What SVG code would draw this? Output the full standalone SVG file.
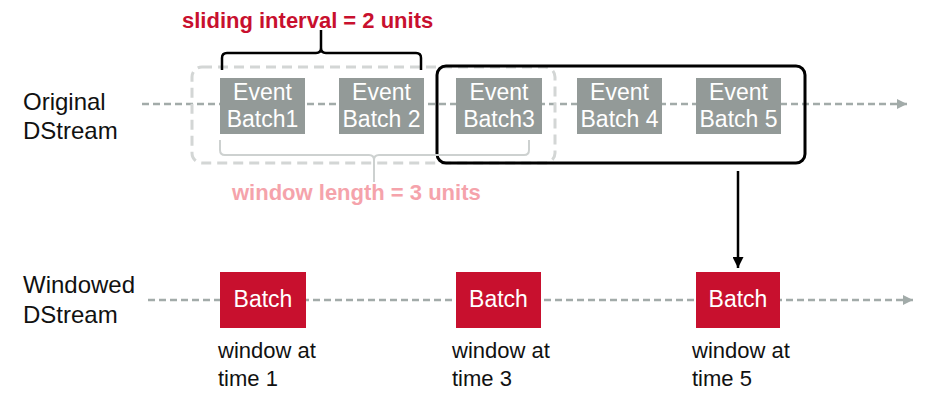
<svg xmlns="http://www.w3.org/2000/svg" width="936" height="403" viewBox="0 0 936 403">
<defs>
<style>
.lbl{font-family:"Liberation Sans",Arial,sans-serif;font-size:24px;fill:#111}
.ev{fill:#939A98}
.evt{font-family:"Liberation Sans",Arial,sans-serif;font-size:23px;fill:#fff;text-anchor:middle}
.wb{fill:#C8102E}
.stream{stroke:#A2ABA9;stroke-width:2.5;stroke-dasharray:7 4;fill:none}
.cap{font-family:"Liberation Sans",Arial,sans-serif;font-size:22px;fill:#111}
</style>
<marker id="gh" viewBox="0 0 10 10" refX="10" refY="5" markerWidth="10" markerHeight="10" markerUnits="userSpaceOnUse" orient="auto">
<path d="M0,0 L10,5 L0,10 Z" fill="#A2ABA9"/>
</marker>
<marker id="bh" viewBox="0 0 10 10" refX="10" refY="5" markerWidth="11" markerHeight="11" markerUnits="userSpaceOnUse" orient="auto">
<path d="M0,0 L10,5 L0,10 Z" fill="#000"/>
</marker>
</defs>
<rect width="936" height="403" fill="#fff"/>

<g id="labels">
<text class="lbl" x="23" y="110">Original</text>
<text class="lbl" x="23" y="139">DStream</text>
<text class="lbl" x="23" y="293">Windowed</text>
<text class="lbl" x="23" y="323">DStream</text>
</g>

<g id="connectors">
<line class="stream" x1="142" y1="104" x2="907" y2="104" marker-end="url(#gh)"/>
<line class="stream" x1="148" y1="300" x2="913" y2="300" marker-end="url(#gh)"/>
<line x1="738" y1="171" x2="738" y2="268" stroke="#000" stroke-width="2.5" marker-end="url(#bh)"/>
</g>

<g id="window-old">
<rect x="192" y="67" width="363" height="96" rx="10" fill="none" stroke="#D3D6D5" stroke-width="3" stroke-dasharray="10 6"/>
</g>

<g id="window-new">
<rect x="437" y="66" width="368" height="97" rx="9" fill="none" stroke="#000" stroke-width="3"/>
</g>

<g id="ev1"><rect class="ev" x="220" y="78" width="85" height="56"/><text class="evt" x="262.5" y="100">Event</text><text class="evt" x="262.5" y="127">Batch1</text></g>
<g id="ev2"><rect class="ev" x="339" y="78" width="85" height="56"/><text class="evt" x="381.5" y="100">Event</text><text class="evt" x="381.5" y="127">Batch 2</text></g>
<g id="ev3"><rect class="ev" x="456" y="78" width="86" height="56"/><text class="evt" x="499" y="100">Event</text><text class="evt" x="499" y="127">Batch3</text></g>
<g id="ev4"><rect class="ev" x="577" y="78" width="85" height="56"/><text class="evt" x="619.5" y="100">Event</text><text class="evt" x="619.5" y="127">Batch 4</text></g>
<g id="ev5"><rect class="ev" x="696" y="78" width="85" height="56"/><text class="evt" x="738.5" y="100">Event</text><text class="evt" x="738.5" y="127">Batch 5</text></g>

<g id="sliding-interval">
<path d="M222,70 V58 Q222,53 227,53 H316 Q321,53 321,48 V30 M321,48 Q321,53 326,53 H416 Q421,53 421,58 V70" fill="none" stroke="#000" stroke-width="2.5"/>
<text x="182" y="28" font-family="'Liberation Sans',Arial,sans-serif" font-size="22" font-weight="bold" fill="#C8102E">sliding interval = 2 units</text>
</g>

<g id="window-length">
<path d="M220,140 V150 Q220,155 225,155 H369 Q374,155 374,160 V182 M374,160 Q374,155 379,155 H524 Q529,155 529,150 V140" fill="none" stroke="#CDD1D0" stroke-width="2"/>
<text x="232" y="200" font-family="'Liberation Sans',Arial,sans-serif" font-size="22" font-weight="bold" fill="#F5A3AB">window length = 3 units</text>
</g>

<g id="wb1"><rect class="wb" x="220" y="272" width="86" height="56"/><text class="evt" x="263" y="307">Batch</text></g>
<g id="wb3"><rect class="wb" x="456" y="272" width="85" height="56"/><text class="evt" x="498.5" y="307">Batch</text></g>
<g id="wb5"><rect class="wb" x="696" y="272" width="84" height="56"/><text class="evt" x="738" y="307">Batch</text></g>

<g id="captions">
<text class="cap" x="218" y="358">window at</text>
<text class="cap" x="218" y="386">time 1</text>
<text class="cap" x="452" y="358">window at</text>
<text class="cap" x="452" y="386">time 3</text>
<text class="cap" x="692" y="358">window at</text>
<text class="cap" x="692" y="386">time 5</text>
</g>
</svg>
